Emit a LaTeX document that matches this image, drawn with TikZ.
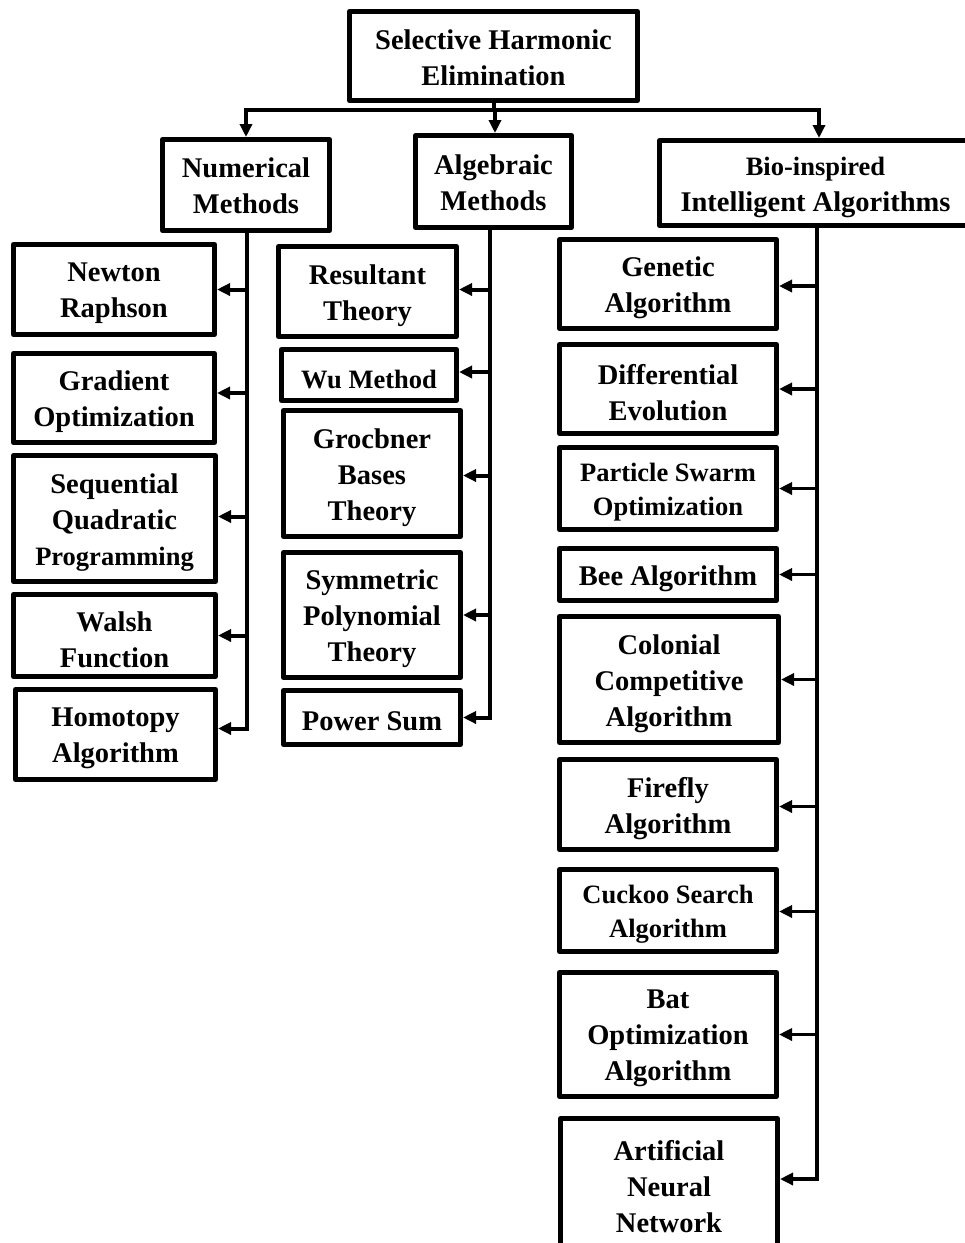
\documentclass[tikz,border=0pt]{standalone}
\usepackage{fontspec}
\setmainfont{Liberation Serif}
\usetikzlibrary{arrows.meta}
\def\tsh{4}
\newcommand{\mybox}[7][]{%
  \node[box,minimum width={#4-#2-5},minimum height={#5-#3-5}] (#6) at ({(#2+#4)/2},{(#3+#5)/2}) {};
  \node[txt,#1] (#6t) at ([yshift=-\tsh pt]#6.center) {#7};}
\tikzset{
  box/.style={draw,line width=5pt,line join=round,inner sep=0pt,fill=white},
  txt/.style={inner sep=0pt,align=center,font=\bfseries\fontsize{28.5}{36}\selectfont},
  small/.style={font=\bfseries\fontsize{26.5}{34}\selectfont},
  conn/.style={line width=4pt},
  arr/.style={line width=4pt,-{Triangle[length=13pt,width=12pt]}},
  barr/.style={line width=3.5pt,-{Triangle[length=13pt,width=12pt]}}
}
\begin{document}
\begin{tikzpicture}[x=1pt,y=-1pt]
\path[use as bounding box,clip] (0,0) rectangle (965,1243);
\fill[white] (0,0) rectangle (965,1243);
% top level
\def\tsh{2}
\mybox{347}{9}{640}{103}{she}{Selective Harmonic\\Elimination}
\def\tsh{1}
\mybox{160}{137}{332}{233}{num}{Numerical\\Methods}
\mybox{413}{133}{574}{230}{alg}{Algebraic\\Methods}
\def\tsh{4}
\mybox{657}{138}{974}{228}{bio}{{\fontsize{26.5}{34}\selectfont Bio-inspired}\\Intelligent Algorithms}
% numerical children
\mybox{11}{242}{217}{337}{nr}{Newton\\Raphson}
\mybox{11}{351}{217}{445}{go}{Gradient\\Optimization}
\mybox{11}{453}{218}{584}{sqp}{Sequential\\Quadratic\\{\fontsize{26.5}{34}\selectfont Programming}}
\mybox{11}{592}{218}{679}{wf}{Walsh\\Function}
\mybox{13}{687}{218}{782}{ha}{Homotopy\\Algorithm}
% algebraic children
\mybox{276}{244}{459}{339}{rt}{Resultant\\Theory}
\mybox[small]{279}{347}{459}{403}{wu}{Wu Method}
\mybox{281}{408}{463}{539}{gb}{Grocbner\\Bases\\Theory}
\mybox{281}{550}{463}{680}{sp}{Symmetric\\Polynomial\\Theory}
\mybox{281}{688}{463}{747}{ps}{Power Sum}
% bio children
\mybox{557}{237}{779}{331}{ga}{Genetic\\Algorithm}
\mybox{557}{342}{779}{436}{de}{Differential\\Evolution}
\mybox[small]{557}{445}{779}{532}{pso}{Particle Swarm\\Optimization}
\mybox{557}{546}{779}{603}{bee}{Bee Algorithm}
\mybox{557}{614}{781}{745}{cca}{Colonial\\Competitive\\Algorithm}
\mybox{557}{757}{779}{852}{ffa}{Firefly\\Algorithm}
\mybox[small]{557}{867}{779}{954}{csa}{Cuckoo Search\\Algorithm}
\mybox{557}{970}{779}{1099}{boa}{Bat\\Optimization\\Algorithm}
\mybox{558}{1116}{780}{1250}{ann}{Artificial\\Neural\\Network}
% bus
\coordinate (busL) at (246,110);
\coordinate (busR) at (819,110);
\coordinate (busM) at (495,110);
\draw[conn] (she.south) -- (she.south |- busL);
\draw[conn,line cap=butt] ([xshift=-2pt]busL) -- ([xshift=2pt]busR);
\draw[arr] (busL) -- (busL |- num.north);
\draw[arr] (busM) -- (busM |- alg.north);
\draw[arr] (busR) -- (busR |- bio.north);
% numerical trunk
\coordinate (nt) at (247,233);
\draw[arr] (nt) |- ([yshift=6pt]ha.east);
\draw[arr] (nt |- nr.east) -- (nr.east);
\draw[arr] ([yshift=5pt]nt |- go.east) -- ([yshift=5pt]go.east);
\draw[arr] ([yshift=2pt]nt |- sqp.east) -- ([yshift=2pt]sqp.east);
\draw[arr] (nt |- wf.east) -- (wf.east);
% algebraic trunk
\coordinate (at) at (490,230);
\draw[arr] (at) |- (ps.east);
\draw[arr] ([yshift=2pt]at |- rt.east) -- ([yshift=2pt]rt.east);
\draw[arr] ([yshift=3pt]at |- wu.east) -- ([yshift=3pt]wu.east);
\draw[arr] ([yshift=-2pt]at |- gb.east) -- ([yshift=-2pt]gb.east);
\draw[arr] (at |- sp.east) -- (sp.east);
% bio trunk
\coordinate (bt) at (817,228);
\draw[barr] (bt) |- ([yshift=4pt]ann.east);
\draw[barr] ([yshift=-2pt]bt |- ga.east) -- ([yshift=-2pt]ga.east);
\draw[barr] (bt |- de.east) -- (de.east);
\draw[barr] (bt |- pso.east) -- (pso.east);
\draw[barr] (bt |- bee.east) -- (bee.east);
\draw[barr] (bt |- cca.east) -- (cca.east);
\draw[barr] ([yshift=-2pt]bt |- ffa.east) -- ([yshift=-2pt]ffa.east);
\draw[barr] ([yshift=-1pt]bt |- csa.east) -- ([yshift=-1pt]csa.east);
\draw[barr] (bt |- boa.east) -- (boa.east);
\end{tikzpicture}
\end{document}
